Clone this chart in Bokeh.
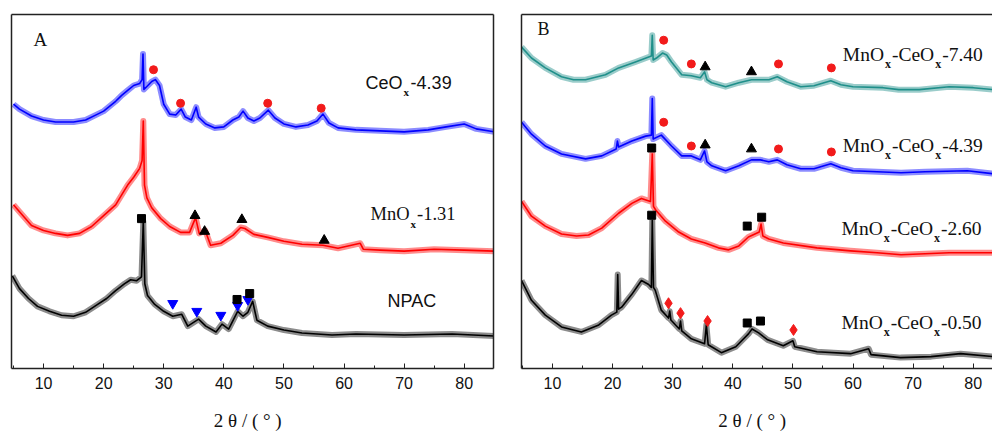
from bokeh.plotting import figure
from bokeh.layouts import row
from bokeh.models import Range1d, LinearAxis, SingleIntervalTicker, FixedTicker, Label
from bokeh.embed import file_html
from bokeh.resources import INLINE

# ---------------- Panel A data (2theta, intensity a.u.) ----------------
a_ceox_x = [5, 6, 8, 10, 12, 15, 17, 19, 20, 22, 23, 24, 25, 26, 26.4, 26.55, 26.7, 27.2, 28, 28.6,
            29.3, 30, 31, 32, 32.9, 33.6, 34.6, 35.4, 35.8, 37, 38.5, 40, 41.5, 42.5, 43.2, 44, 45,
            46, 47.4, 48.5, 50, 52, 54, 55.5, 56.5, 57.5, 59, 62, 66, 70, 74, 77, 80, 82, 85]
a_ceox_y = [268, 263, 256, 252, 250, 250, 252, 258, 261, 271, 277, 282, 287, 289, 293, 319, 283, 286, 291, 293,
            287, 268, 258, 257, 263, 255, 252, 265, 255, 248, 244, 245, 252, 255, 261, 254, 251,
            254, 262, 254, 248, 245, 247, 251, 258, 249, 244, 242, 241, 240, 242, 245, 248, 243, 240]

a_mnox_x = [5, 6, 8, 10, 12, 14, 16, 18, 20, 22, 23, 24, 25, 26, 26.4, 26.6, 26.8, 27.2, 28, 29.5,
            31, 32.8, 34.3, 35.3, 35.9, 36.9, 37.8, 39.5, 41.5, 42.8, 43.5, 45, 47.3, 50, 53, 56.5,
            59, 62.7, 63.2, 66, 70, 75, 80, 85]
a_mnox_y = [166, 159, 145, 140, 137, 135, 137, 144, 155, 166, 176, 186, 194, 203, 211, 251, 186, 173, 163, 152,
            144, 138, 138, 153, 137, 140, 125, 127, 135, 143, 142, 136, 133, 129, 126, 125,
            122, 127, 121, 120, 119, 121, 120, 119]

a_npac_x = [4.8, 6, 7.5, 9, 11, 13, 15, 17, 19, 20.5, 22, 23.5, 24.5, 25.5, 26.3, 26.6, 26.85, 27.3, 28.5,
            30, 31.5, 33, 34, 35.8, 37, 38.7, 39.7, 40.8, 42.3, 43.2, 44, 44.8, 45.5, 47.3, 50, 53,
            58, 62, 70, 78, 85]
a_npac_y = [94, 81, 71, 63, 58, 54, 53, 57, 65, 71, 79, 86, 90, 89, 93, 149, 86, 74, 65,
            58, 53, 55, 43, 50, 43, 37, 45, 40, 58, 53, 57, 68, 49, 43, 39, 36,
            34, 35, 34, 35, 33]

# phase markers, panel A
a_ceo2_x = [28.3, 32.8, 47.3, 56.2]          # red circles
a_ceo2_y = [303, 269, 269, 264]
a_mn_tri_x = [35.2, 36.8, 43.0, 56.7]        # black triangles
a_mn_tri_y = [155, 139, 151, 130]
a_sq_x = [26.3, 42.2, 44.3]                  # black squares
a_sq_y = [152, 70, 76]
a_inv_x = [31.5, 35.5, 39.5, 42.3, 44.0]     # blue inverted triangles
a_inv_y = [66, 58, 54, 64, 70]

# ---------------- Panel B data ----------------
b_740_x = [4.85, 6.5, 8.8, 11.5, 13.5, 15.5, 18.8, 21, 23.8, 26, 26.45, 26.6, 26.75, 27.3, 28.3, 29,
           29.8, 31.5, 33.1, 34.6, 35.3, 35.7, 36.5, 38.8, 41, 43.1, 44.6, 46, 47.4, 49, 51.3, 53.5,
           56.3, 58, 60, 65, 67.6, 71, 76, 80, 83.3]
b_740_y = [325, 314, 304, 295, 292, 292, 297, 304, 310, 315, 316, 337, 312, 314, 319, 317,
           310, 297, 296, 294, 300, 292, 289, 285, 289, 292, 292, 292, 295, 290, 285, 286,
           291, 287, 285, 284, 282, 282, 285, 284, 282]

b_439_x = [4.85, 6.5, 8.8, 11.5, 15.5, 18.2, 20.6, 20.8, 21, 23.2, 25.5, 26.45, 26.6, 26.75, 28.1,
           29.8, 31.5, 33.1, 34.6, 35.3, 35.7, 36.5, 38.8, 41, 43.1, 44.6, 46, 47.4, 49, 51.3, 53.5,
           56.3, 58, 60, 64, 68, 72, 79, 83.3]
b_439_y = [249, 237, 225, 217, 212, 215, 222, 230, 224, 230, 235, 236, 273, 232, 236,
           225, 215, 215, 211, 220, 209, 205, 200, 205, 211, 211, 209, 211, 206, 202, 202,
           207, 203, 200, 199, 198, 199, 200, 197]

b_260_x = [4.85, 6.5, 8.8, 11.5, 14, 16, 18.2, 21, 23.2, 24.8, 26.3, 26.6, 26.8, 27.2, 28.8, 31,
           33.1, 35.4, 37.6, 39.3, 41, 42.6, 44.4, 44.7, 45, 46, 48.4, 54, 59.6, 64, 68, 72, 76, 80, 83.3]
b_260_y = [169, 154, 144, 136, 134, 135, 142, 157, 167, 172, 169, 217, 164, 160, 149, 138,
           131, 127, 122, 120, 124, 133, 138, 146, 134, 131, 127, 122, 119, 117, 115, 116, 117, 117, 117]

b_050_x = [4.85, 6.5, 8.8, 11.5, 14.8, 17.7, 19.8, 20.7, 20.85, 21, 21.5, 23.2, 24.8, 26, 26.45, 26.6,
           26.8, 27.1, 28.1, 29.3, 29.5, 29.7, 31.1, 31.3, 31.5, 33.1, 35.3, 35.6, 35.9, 38.1, 40.5,
           42.6, 43.2, 44.3, 45.8, 48.4, 50, 50.3, 54, 59.6, 62.6, 63, 67.9, 73, 77.9, 83.3]
b_050_y = [89, 69, 54, 42, 37, 44, 54, 57, 95, 60, 62, 75, 89, 85, 82, 150,
           82, 79, 59, 51, 58, 49, 40, 48, 38, 30, 25, 44, 24, 16, 22,
           35, 40, 36, 29, 23, 28, 22, 17, 15, 20, 14, 11, 12, 15, 12]

# phase markers, panel B
b_740_dot_x = [28.5, 33.1, 47.6, 56.4]
b_740_dot_y = [332, 308, 308, 304]
b_740_tri_x = [35.4, 43.1]
b_740_tri_y = [305, 300]
b_439_dot_x = [28.5, 33.1, 47.6, 56.4]
b_439_dot_y = [249, 225, 222, 219]
b_439_tri_x = [35.4, 43.1]
b_439_tri_y = [226, 222]
b_260_sq_x = [26.5, 42.4, 44.8]
b_260_sq_y = [223, 144, 153]
b_050_sq_x = [26.5, 42.4, 44.6]
b_050_sq_y = [155, 46, 48]
b_050_dia_x = [29.3, 31.3, 35.8, 50.1]
b_050_dia_y = [66, 56, 48, 39]

x_ticks_interval = 10
axis_title = "2 θ / ( °   )"

TEAL = "#1f8f8a"
BLUE = "#0000ff"
RED = "#ff0000"
BLACK = "#000000"
MRED = "#f21b1b"

W_TIMES = {'M': .889, 'n': .5, 'O': .722, 'x': .5, '-': .333, 'C': .667, 'e': .444, '.': .25,
           'A': .722, 'B': .667}
W_ARIAL = {'C': .722, 'e': .556, 'O': .778, 'x': .556, '-': .333, '.': .278, 'N': .722,
           'P': .667, 'A': .667}


def text_width(s, size, table):
    return sum(table.get(ch, 0.5 if table is W_TIMES else 0.556) for ch in s) * size


def make_fig(width, xr, yr, left, right, top, bottom, right_frame):
    p = figure(width=width, height=433, x_range=Range1d(*xr), y_range=Range1d(*yr),
               output_backend="svg", toolbar_location=None, tools="",
               min_border_left=left, min_border_right=right, min_border_top=top,
               min_border_bottom=bottom)
    p.outline_line_color = None
    p.grid.visible = False
    p.background_fill_color = "white"
    p.border_fill_color = "white"
    xa = p.xaxis[0]
    xa.ticker = SingleIntervalTicker(interval=x_ticks_interval, num_minor_ticks=2)
    xa.major_tick_in = 5
    xa.major_tick_out = 0
    xa.minor_tick_in = 3
    xa.minor_tick_out = 0
    xa.axis_line_width = 1.5
    xa.axis_line_color = "#222222"
    xa.major_tick_line_color = "#222222"
    xa.minor_tick_line_color = "#222222"
    xa.major_label_text_font = "Liberation Sans"
    xa.major_label_text_font_size = "16px"
    xa.major_label_text_color = "#111111"
    xa.major_label_standoff = 8
    xa.axis_label = axis_title
    xa.axis_label_text_font = "Liberation Serif"
    xa.axis_label_text_font_style = "normal"
    xa.axis_label_text_font_size = "19px"
    xa.axis_label_text_color = "#111111"
    xa.axis_label_standoff = 18
    ya = p.yaxis[0]
    ya.ticker = FixedTicker(ticks=[])
    ya.major_tick_out = 0
    ya.major_tick_in = 0
    ya.major_label_standoff = 0
    ya.axis_line_width = 1.5
    ya.axis_line_color = "#222222"
    sides = ["above"] + (["right"] if right_frame else [])
    for side in sides:
        ax = LinearAxis(ticker=FixedTicker(ticks=[]), major_tick_out=0, major_tick_in=0,
                        major_label_standoff=0, axis_line_width=1.5, axis_line_color="#222222")
        p.add_layout(ax, side)
    return p


def curve(p, xs, ys, color):
    p.line(xs, ys, line_color=color, line_width=6, line_alpha=0.45, line_join="round")
    p.line(xs, ys, line_color=color, line_width=1.6, line_join="round")


def rich_label(p, x, y, parts, size, subsize, sub_dy, table, font, subfont, xscale):
    cx = x
    for txt, sub in parts:
        if sub:
            p.add_layout(Label(x=cx, y=y - sub_dy, text=txt, text_font=subfont,
                               text_font_size=f"{subsize}px", text_font_style="bold",
                               text_baseline="middle", text_align="left", text_color="#111111"))
            cx += text_width(txt, subsize, table) / xscale + 1.0 / xscale
        else:
            p.add_layout(Label(x=cx, y=y, text=txt, text_font=font,
                               text_font_size=f"{size}px", text_baseline="middle",
                               text_align="left", text_color="#111111"))
            cx += text_width(txt, size, table) / xscale + 1.0 / xscale


SCALE = 6.01  # px per degree

# ---------------- Panel A ----------------
pa = make_fig(500, (4.67, 84.87), (0, 359), 11, 7, 12, 62, True)
curve(pa, a_npac_x, a_npac_y, BLACK)
curve(pa, a_mnox_x, a_mnox_y, RED)
curve(pa, a_ceox_x, a_ceox_y, BLUE)
pa.scatter(a_ceo2_x, a_ceo2_y, marker="circle", size=8, color=MRED)
pa.scatter(a_mn_tri_x, a_mn_tri_y, marker="triangle", size=10, color=BLACK)
pa.scatter(a_inv_x, a_inv_y, marker="inverted_triangle", size=10, color=BLUE)
pa.scatter(a_sq_x, a_sq_y, marker="square", size=8, color=BLACK)

pa.add_layout(Label(x=8.33, y=334, text="A", text_font="Liberation Serif", text_font_size="19px",
                    text_baseline="middle", text_color="#111111"))
rich_label(pa, 63.57, 290, [("CeO", False), ("x", True), ("-4.39", False)], 18, 11, 10,
           W_ARIAL, "Liberation Sans", "Liberation Serif", SCALE)
rich_label(pa, 64.4, 157, [("MnO", False), ("x", True), ("-1.31", False)], 18.5, 11, 10,
           W_TIMES, "Liberation Serif", "Liberation Serif", SCALE)
pa.add_layout(Label(x=67.23, y=68, text="NPAC", text_font="Liberation Sans", text_font_size="18px",
                    text_baseline="middle", text_color="#111111"))

# ---------------- Panel B ----------------
pb = make_fig(492, (4.84, 83.21), (0, 358), 21, 0, 14, 61, False)
curve(pb, b_050_x, b_050_y, BLACK)
curve(pb, b_260_x, b_260_y, RED)
curve(pb, b_439_x, b_439_y, BLUE)
curve(pb, b_740_x, b_740_y, TEAL)
for dx, dy in ((b_740_dot_x, b_740_dot_y), (b_439_dot_x, b_439_dot_y)):
    pb.scatter(dx, dy, marker="circle", size=8, color=MRED)
for tx, ty in ((b_740_tri_x, b_740_tri_y), (b_439_tri_x, b_439_tri_y)):
    pb.scatter(tx, ty, marker="triangle", size=10, color=BLACK)
for sx, sy in ((b_260_sq_x, b_260_sq_y), (b_050_sq_x, b_050_sq_y)):
    pb.scatter(sx, sy, marker="square", size=8, color=BLACK)
pb.scatter(b_050_dia_x, b_050_dia_y, marker="diamond", size=11, color=MRED)

pb.add_layout(Label(x=7.5, y=343, text="B", text_font="Liberation Serif", text_font_size="18px",
                    text_baseline="middle", text_color="#111111"))
for yy, tail, lx in ((318, "-7.40", 58.3), (226, "-4.39", 58.3), (142, "-2.60", 58.1), (47, "-0.50", 58.1)):
    rich_label(pb, lx, yy, [("MnO", False), ("x", True), ("-CeO", False), ("x", True), (tail, False)],
               19.5, 12, 10, W_TIMES, "Liberation Serif", "Liberation Serif", SCALE)

layout = row(pa, pb)
open("out.html", "w").write(file_html(layout, INLINE))
